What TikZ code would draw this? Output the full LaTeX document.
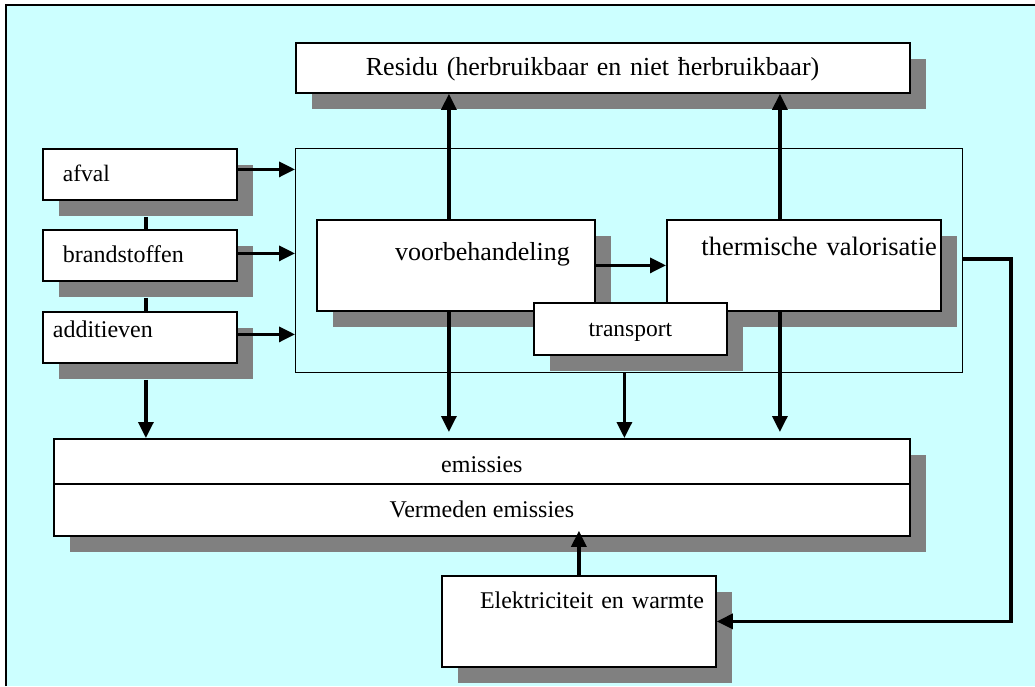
\documentclass[tikz,border=0pt]{standalone}
\usepackage{fontspec}
\setmainfont{Liberation Serif}
\usetikzlibrary{arrows.meta,shadows,calc}
\definecolor{achter}{RGB}{204,255,255}
\definecolor{schaduw}{RGB}{128,128,128}
\newcommand{\lettergrootte}[1]{\fontsize{#1pt}{#1pt}\selectfont}

\begin{document}
\begin{tikzpicture}[x=1pt, y=-1pt,
    blok/.style={draw, line width=1.8pt, fill=white, anchor=north west, inner sep=0pt,
      general shadow={fill=schaduw, shadow xshift=16pt, shadow yshift=-16pt}},
    pijl/.style={line width=3.2pt, -{Triangle[length=16pt,width=15pt]}},
    lijn/.style={line width=3.2pt}]
  \useasboundingbox (0,0) rectangle (1035,686);
  \fill[white] (0,0) rectangle (1035,686);
  \fill[achter] (6,5) rectangle (1035,686);
  \draw[line width=1.6pt] (6,686) -- (6,5) -- (1035,5);

  % bovenste blok
  \node[blok, minimum width=614pt, minimum height=50pt, text width=474pt, align=left,
    text height=20pt, text depth=4pt, font=\lettergrootte{26}] (residu) at (295,42)
    {Residu (herbruikbaar en niet ħerbruikbaar)};

  % invoer
  \node[blok, minimum width=194pt, minimum height=51pt, text width=154pt, align=left,
    text height=20pt, text depth=5pt, font=\lettergrootte{23.5}] (afval) at (42,148) {afval};
  \node[blok, minimum width=194pt, minimum height=51pt, text width=154pt, align=left,
    text height=20pt, text depth=6pt, font=\lettergrootte{24}] (brand) at (42,229) {brandstoffen};
  \node[blok, minimum width=194pt, minimum height=51pt, text width=174pt, align=left,
    text height=19pt, text depth=19pt, font=\lettergrootte{24}] (add) at (42,311) {additieven};

  % proces
  \node[draw, line width=1.3pt, anchor=north west, inner sep=0pt,
    minimum width=667pt, minimum height=224pt] (proces) at (295,148) {};
  \node[blok, minimum width=278pt, minimum height=91pt, text width=228pt, align=right,
    text height=18pt, text depth=27pt, font=\lettergrootte{26}] (voor) at (316,219) {voorbehandeling};
  \node[blok, minimum width=274pt, minimum height=91pt, text width=266pt, align=right,
    text height=18pt, text depth=37pt, font=\lettergrootte{26.5}] (therm) at (666,219) {thermische valorisatie};
  \node[blok, minimum width=193pt, minimum height=52pt, align=center,
    text height=20pt, text depth=4pt, font=\lettergrootte{23.5}] (trans) at (533,302) {transport};

  % uitvoer
  \node[blok, minimum width=856pt, minimum height=45pt, align=center,
    text height=26pt, text depth=3pt, font=\lettergrootte{24}] (emis) at (53,438) {emissies};
  \node[blok, minimum width=856pt, minimum height=52pt, align=center,
    text height=20pt, text depth=4pt, font=\lettergrootte{24}] (verm) at (53,483) {Vermeden emissies};
  \node[blok, minimum width=274pt, minimum height=91pt, text width=250pt, align=right,
    text height=18pt, text depth=43pt, font=\lettergrootte{24}] (elek) at (441,575) {Elektriciteit en warmte};

  \foreach \bron/\dy in {afval/5, brand/2, add/3}
    \draw[pijl] ($(\bron.east)+(0,-\dy)$) -- ($(\bron.east -| proces.west)+(0,-\dy)$);
  \draw[lijn] ($(afval.south)+(6,16)$) -- ($(brand.north)+(6,0)$);
  \draw[lijn] ($(brand.south)+(6,16)$) -- ($(add.north)+(6,0)$);
  \draw[pijl] ($(add.south)+(6,16)$) -- ($(add.south |- emis.north)+(6,0)$);

  \draw[pijl] ($(voor.north)+(-7,0)$) -- ($(voor.north |- residu.south)+(-7,0)$);
  \draw[pijl] ($(therm.north)+(-24,0)$) -- ($(therm.north |- residu.south)+(-24,0)$);
  \draw[pijl] (voor.east) -- (therm.west);
  \draw[pijl, shorten >=6pt] ($(voor.south)+(-7,0)$) -- ($(voor.south |- emis.north)+(-7,0)$);
  \draw[pijl, shorten >=6pt] ($(therm.south)+(-24,0)$) -- ($(therm.south |- emis.north)+(-24,0)$);
  \draw[pijl] ($(trans.south)+(-6,17)$) -- ($(trans.south |- emis.north)+(-6,0)$);

  \coordinate (hoek) at (1011,259);
  \draw[pijl] (proces.east |- hoek) -- (hoek) |- (elek.east);
  \draw[pijl, shorten >=-6pt] (elek.north) -- (elek.north |- verm.south);
\end{tikzpicture}
\end{document}
